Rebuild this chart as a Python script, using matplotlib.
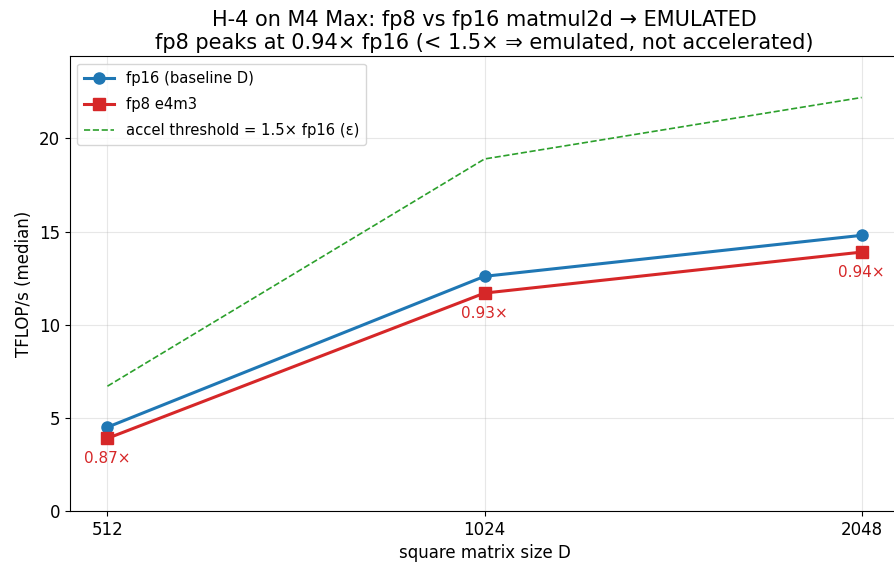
import matplotlib
matplotlib.use("Agg")
import matplotlib.pyplot as plt

# matrix sizes and median throughput (TFLOP/s)
sizes = [512, 1024, 2048]
fp16 = [4.5, 12.6, 14.8]
fp8 = [3.9, 11.7, 13.9]
threshold = [6.7, 18.9, 22.2]
ratios = ["0.87×", "0.93×", "0.94×"]

fig = plt.figure(figsize=(8.94, 5.65), dpi=100)
ax = fig.add_axes([0.078, 0.0956, 0.928, 0.805])

ax.plot(sizes, fp16, "-o", color="#1f77b4", lw=2.2, ms=8, label="fp16 (baseline D)")
ax.plot(sizes, fp8, "-s", color="#d62728", lw=2.2, ms=8, label="fp8 e4m3")
ax.plot(sizes, threshold, "--", color="#2ca02c", lw=1.2, label="accel threshold = 1.5× fp16 (ε)")

for x, y, r in zip(sizes, fp8, ratios):
    ax.annotate(r, (x, y), xytext=(0, -9), textcoords="offset points",
                ha="center", va="top", color="#d62728", fontsize=11)

ax.set_xscale("log", base=2)
ax.set_xticks(sizes)
ax.set_xticklabels([str(s) for s in sizes])
ax.minorticks_off()
ax.set_ylim(0, max(threshold) * 1.1)
ax.tick_params(labelsize=12)
ax.set_xlabel("square matrix size D", fontsize=12)
ax.set_ylabel("TFLOP/s (median)", fontsize=12)
ax.set_title("H-4 on M4 Max: fp8 vs fp16 matmul2d → EMULATED\n"
             "fp8 peaks at 0.94× fp16 (< 1.5× ⇒ emulated, not accelerated)",
             fontsize=15, pad=5)
ax.grid(True, alpha=0.3)
ax.legend(loc="upper left", fontsize=10.6, labelspacing=0.75, borderpad=0.5)

fig.savefig("out.png", dpi=100)
